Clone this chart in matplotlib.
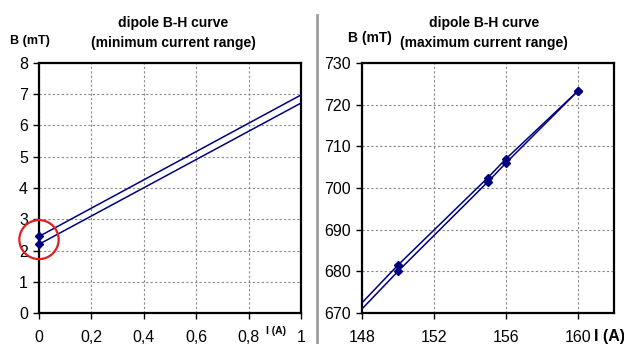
import matplotlib.pyplot as plt
from matplotlib.patches import Ellipse
from matplotlib.lines import Line2D
from matplotlib.ticker import FuncFormatter

plt.rcParams['font.family'] = ['Liberation Sans', 'DejaVu Sans']

# dipole excitation: current (A) and field (mT), two branches
current = [0, 150, 155, 156, 160]
b_lower = [2.2, 680.0, 701.5, 706.0, 723.3]
b_upper = [2.45, 681.5, 702.5, 707.0, 723.3]

left_xticks = [0, 0.2, 0.4, 0.6, 0.8, 1]
left_yticks = [0, 1, 2, 3, 4, 5, 6, 7, 8]
right_xticks = [148, 152, 156, 160]
right_yticks = [670, 680, 690, 700, 710, 720, 730]

navy = '#000080'

fig = plt.figure(figsize=(6.24, 3.44), dpi=100)
ax1 = fig.add_axes([0.0625, 0.090, 0.420, 0.727])
ax2 = fig.add_axes([0.580, 0.090, 0.404, 0.727])


def draw(ax, xlim, ylim):
    ax.set_xlim(*xlim)
    ax.set_ylim(*ylim)
    for b in (b_lower, b_upper):
        ax.plot(current, b, color=navy, lw=1.1, zorder=3)
        # markers sit on top of the frame, so only keep the ones in range
        pts = [(x, y) for x, y in zip(current, b)
               if xlim[0] <= x <= xlim[1] and ylim[0] <= y <= ylim[1]]
        ax.plot([p[0] for p in pts], [p[1] for p in pts], ls='none',
                marker='D', ms=4, mfc=navy, mec=navy, clip_on=False, zorder=5)
    ax.grid(True, color='#888888', ls=(0, (2, 2)), lw=0.8)
    for s in ax.spines.values():
        s.set_linewidth(1.6)
        s.set_color('black')
    ax.tick_params(direction='out', length=4, width=1, labelsize=11.5, pad=4)
    ax.tick_params(axis='x', pad=8)


draw(ax1, (0, 1), (0, 8))
ax1.set_xticks(left_xticks)
ax1.set_yticks(left_yticks)
ax1.xaxis.set_major_formatter(FuncFormatter(lambda v, p: ('%g' % v).replace('.', ',')))

# highlight the zero-current remanence
ring = Ellipse((0, 2.35), 0.15, 1.25, transform=ax1.transData, fill=False,
               ec='#e02020', lw=1.6, clip_on=False, zorder=6)
ax1.add_patch(ring)

draw(ax2, (148, 162), (670, 730))
ax2.set_xticks(right_xticks)
ax2.set_yticks(right_yticks)

# titles and axis labels
fig.text(173 / 624, 1 - 23 / 344, 'dipole B-H curve', ha='center', va='center',
         fontsize=10, fontweight='bold')
fig.text(173 / 624, 1 - 43 / 344, '(minimum current range)', ha='center', va='center',
         fontsize=10, fontweight='bold')
fig.text(484 / 624, 1 - 23 / 344, 'dipole B-H curve', ha='center', va='center',
         fontsize=10, fontweight='bold')
fig.text(484 / 624, 1 - 43 / 344, '(maximum current range)', ha='center', va='center',
         fontsize=10, fontweight='bold')
fig.text(10 / 624, 1 - 41 / 344, 'B (mT)', ha='left', va='center',
         fontsize=9, fontweight='bold')
fig.text(348 / 624, 1 - 38 / 344, 'B (mT)', ha='left', va='center',
         fontsize=10, fontweight='bold')
fig.text(276 / 624, 1 - 331 / 344, 'I (A)', ha='center', va='center',
         fontsize=7.5, fontweight='bold')
fig.text(609 / 624, 1 - 336 / 344, 'I (A)', ha='center', va='center',
         fontsize=11.5, fontweight='bold')

# separator between the two panels
fig.add_artist(Line2D([317 / 624, 317 / 624], [0, 1 - 15 / 344],
                      transform=fig.transFigure, color='#a0a0a0', lw=2))

fig.savefig('out.png', dpi=100)
